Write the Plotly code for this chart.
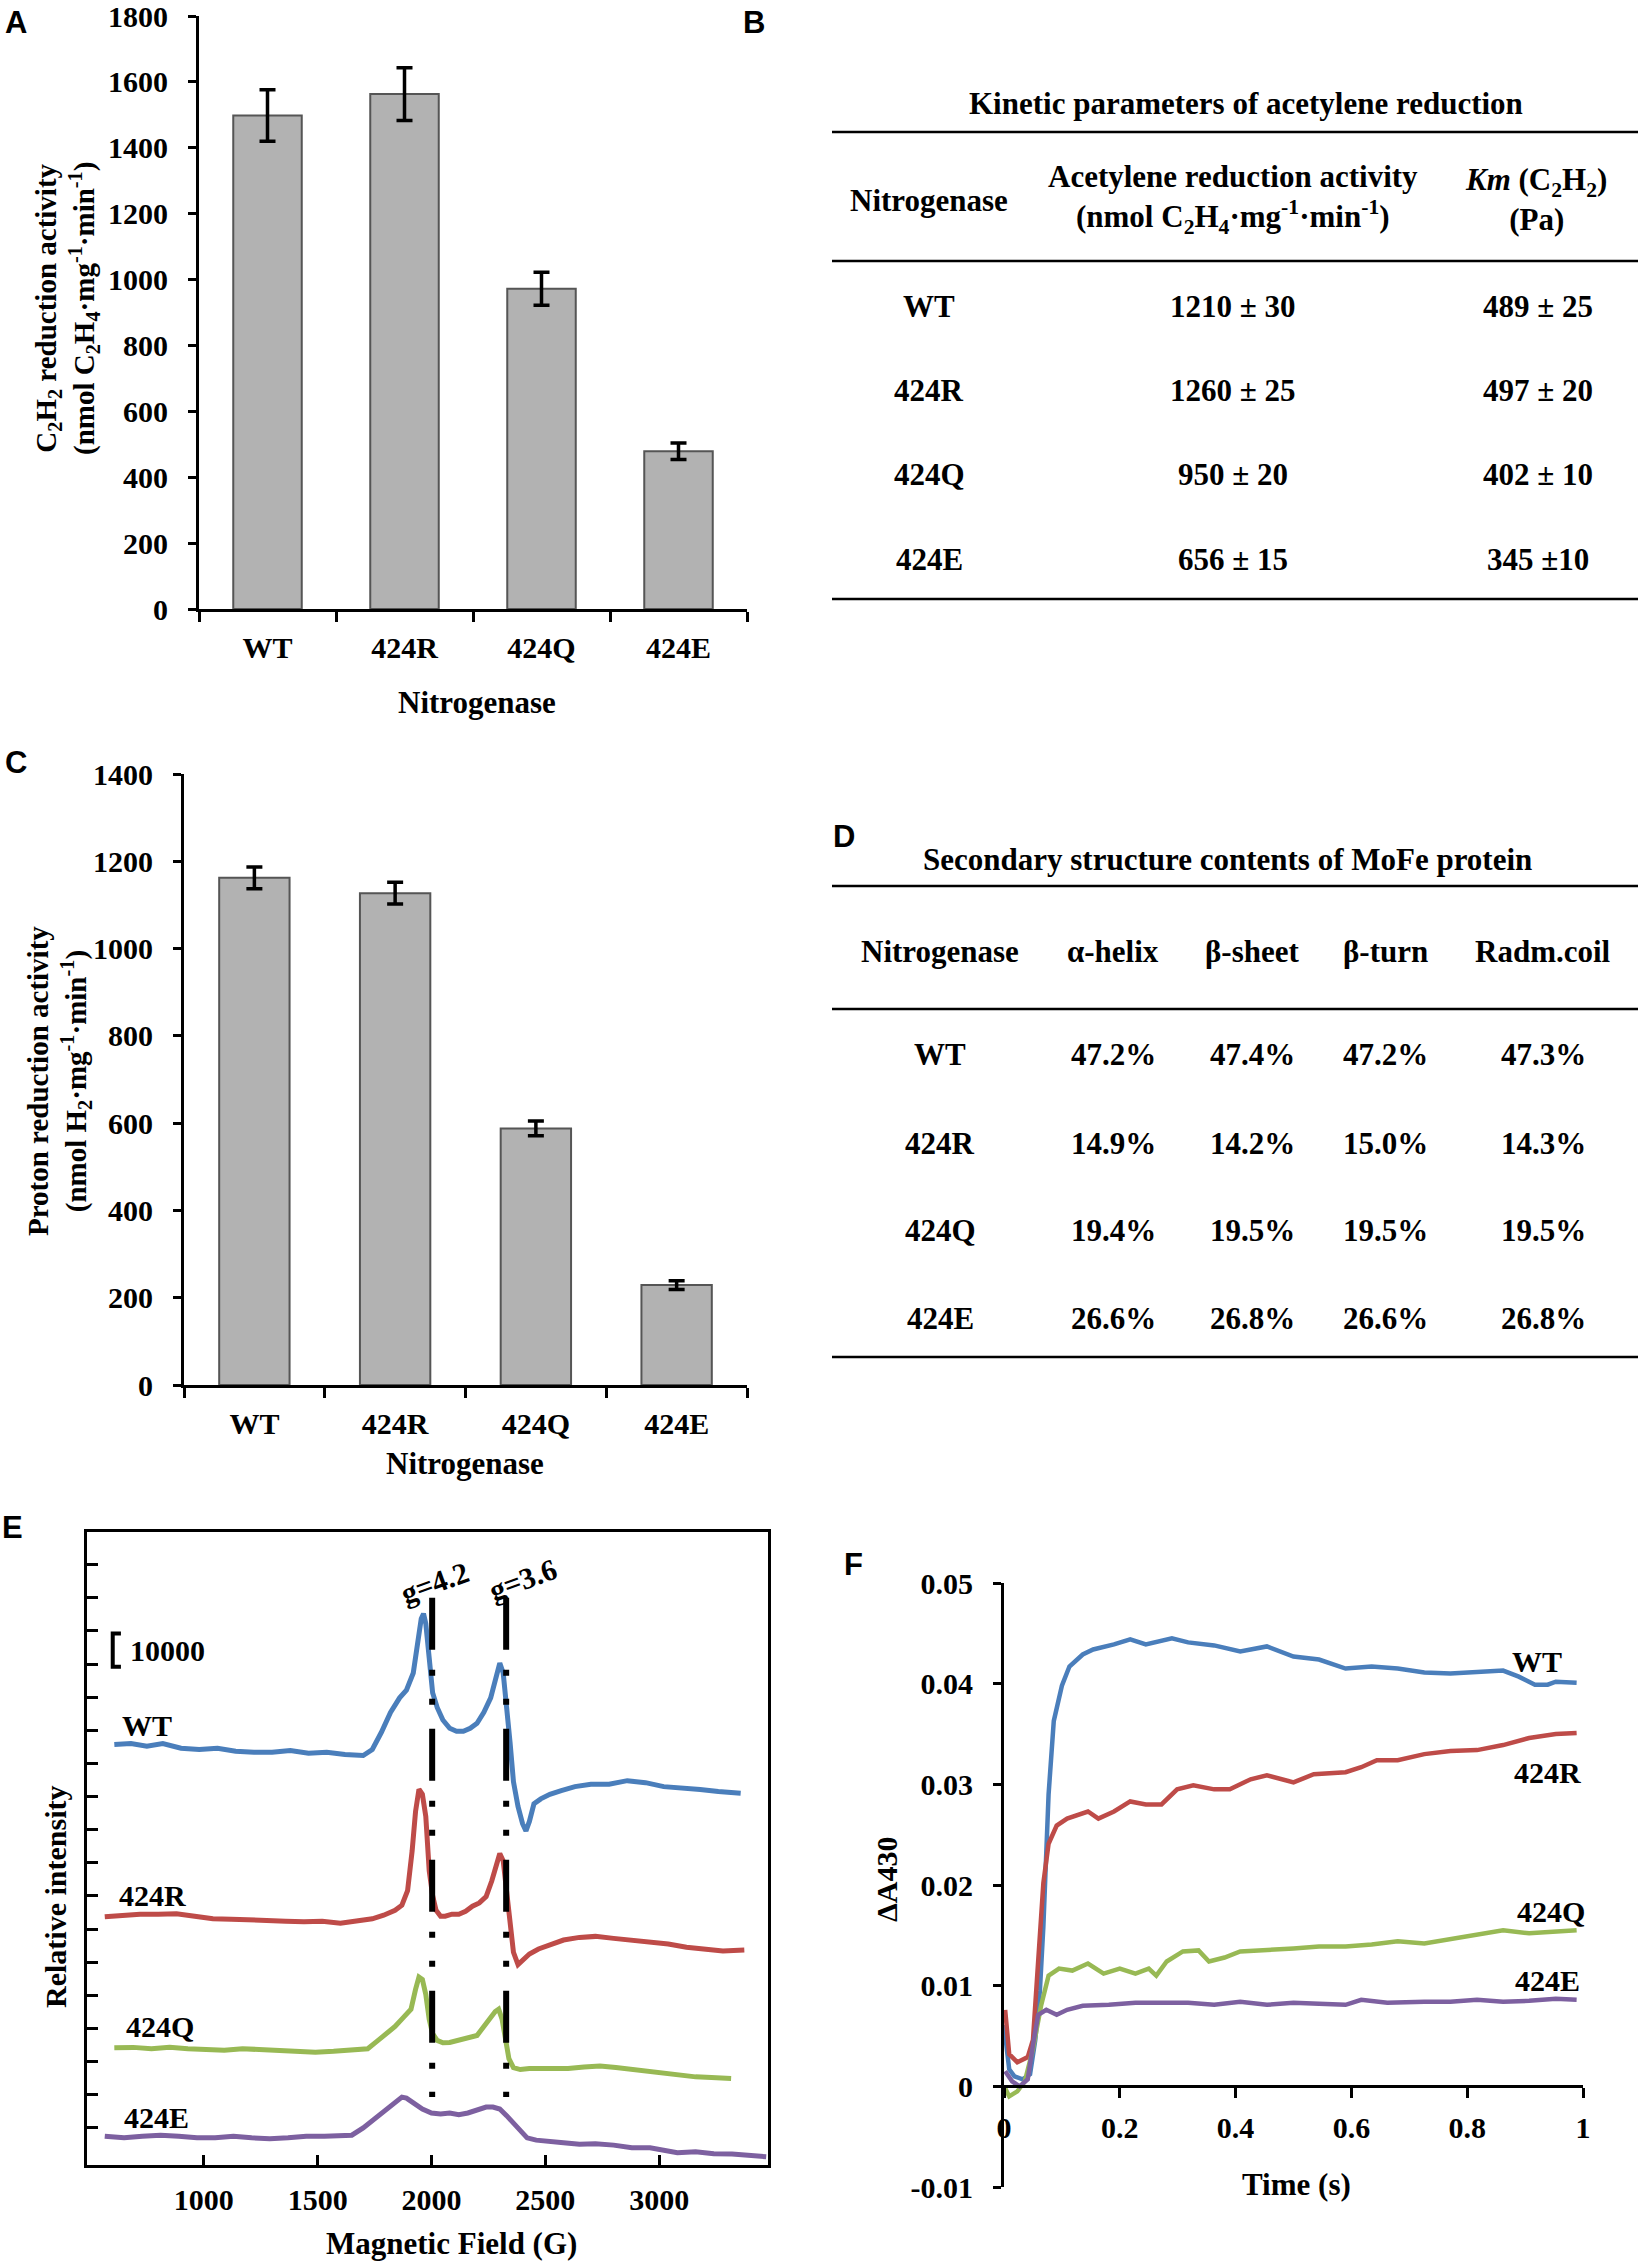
import plotly.graph_objects as go

W, H = 1639, 2265
SERIF = "Liberation Serif"
SANS = "Liberation Sans"


def PX(x):
    return x / W


def PY(y):
    return 1 - y / H


# ---------------- data ----------------
strains = ["WT", "424R", "424Q", "424E"]

# Panel A: C2H2 reduction activity
c2h2_activity = [1498, 1563, 972, 479]
c2h2_err = [78, 80, 50, 25]

# Panel C: proton reduction activity
h2_activity = [1162, 1127, 588, 229]
h2_err = [25, 25, 17, 10]

# Panel B table
kin_activity = ["1210 ± 30", "1260 ± 25", "950 ± 20", "656 ± 15"]
kin_km = ["489 ± 25", "497 ± 20", "402 ± 10", "345 ±10"]

# Panel D table
ss_columns = ["Nitrogenase", "α-helix", "β-sheet", "β-turn", "Radm.coil"]
ss_helix = ["47.2%", "14.9%", "19.4%", "26.6%"]
ss_sheet = ["47.4%", "14.2%", "19.5%", "26.8%"]
ss_turn = ["47.2%", "15.0%", "19.5%", "26.6%"]
ss_coil = ["47.3%", "14.3%", "19.5%", "26.8%"]

# Panel E: EPR spectra (field in G, offset intensity)
epr_wt_field = [607, 680, 750, 820, 900, 980, 1060, 1140, 1220, 1300, 1380, 1460, 1540, 1620, 1700,
                1740, 1780, 1820, 1860, 1890, 1920, 1940, 1955, 1965, 1975, 1990, 2005, 2025, 2050,
                2080, 2110, 2140, 2170, 2200, 2230, 2260, 2285, 2300, 2315, 2330, 2345, 2360, 2380,
                2400, 2415, 2430, 2450, 2480, 2520, 2570, 2630, 2700, 2780, 2860, 2940, 3020, 3100,
                3180, 3260, 3358]
epr_wt_int = [115700, 116000, 115200, 116000, 114600, 114200, 114600, 113700, 113400, 113400,
              113900, 113100, 113400, 112700, 112400, 114200, 119400, 125400, 129800, 132100,
              137300, 146300, 153700, 155200, 152200, 141800, 131300, 126900, 123100, 120600,
              119700, 119700, 120600, 122100, 125400, 129800, 137300, 140300, 137300, 128400,
              116400, 104500, 97000, 91800, 89600, 92500, 97800, 99300, 100700, 101800,
              103000, 103700, 103700, 104800, 104200, 103000, 102700, 102100, 101500, 101000]

epr_r_field = [565, 640, 720, 800, 880, 960, 1040, 1120, 1200, 1280, 1360, 1440, 1520, 1600, 1680,
               1740, 1790, 1840, 1870, 1895, 1915, 1930, 1945, 1960, 1975, 1990, 2005, 2020, 2040,
               2060, 2090, 2120, 2150, 2180, 2210, 2240, 2265, 2285, 2300, 2315, 2330, 2345, 2360,
               2380, 2400, 2430, 2470, 2520, 2580, 2650, 2720, 2800, 2880, 2960, 3040, 3120, 3200,
               3280, 3374]
epr_r_int = [63700, 64200, 64500, 64500, 64600, 63900, 63100, 63000, 62700, 62700,
             62400, 62200, 62400, 61800, 62700, 63100, 64200, 65700, 67200, 71600,
             83600, 95500, 102200, 100700, 94000, 77600, 70100, 65700, 63900, 63900,
             64500, 64500, 65400, 66900, 67900, 69800, 74600, 79800, 82800, 80600,
             71600, 59700, 53000, 49300, 50700, 52500, 54000, 55200, 56700, 57500,
             57800, 57200, 56700, 56300, 55500, 54500, 54000, 53400, 53700]

epr_q_field = [607, 690, 770, 850, 930, 1010, 1090, 1170, 1250, 1330, 1410, 1490, 1570, 1650, 1720,
               1760, 1800, 1840, 1880, 1910, 1930, 1945, 1960, 1975, 1990, 2005, 2025, 2050, 2080,
               2110, 2140, 2170, 2200, 2230, 2255, 2280, 2295, 2310, 2325, 2340, 2360, 2390, 2430,
               2480, 2540, 2600, 2670, 2740, 2810, 2880, 2950, 3020, 3090, 3160, 3230, 3316]
epr_q_int = [24200, 24300, 23900, 24300, 23900, 23600, 23400, 23900, 23600, 23100,
             23100, 22800, 23100, 23600, 23900, 26100, 28400, 30600, 33600, 35800,
             41800, 45500, 44800, 40300, 32800, 28400, 26400, 25700, 25800, 26400,
             26900, 27300, 27900, 30600, 32800, 35100, 35800, 32800, 26900, 20900,
             18200, 17600, 17900, 17900, 18200, 17900, 18400, 18700, 18200, 17600,
             17200, 16400, 15700, 15400, 15200, 14900]

epr_e_field = [565, 650, 730, 810, 890, 970, 1050, 1130, 1210, 1290, 1370, 1450, 1530, 1600, 1650,
               1700, 1750, 1800, 1840, 1870, 1890, 1920, 1960, 2000, 2040, 2080, 2120, 2160, 2200,
               2240, 2270, 2300, 2330, 2360, 2390, 2420, 2460, 2520, 2580, 2650, 2720, 2800, 2880,
               2960, 3020, 3080, 3160, 3240, 3320, 3400, 3470]
epr_e_int = [-2500, -3000, -2500, -2200, -2500, -3000, -3000, -2500, -3000, -3300,
             -3000, -2500, -2500, -2200, -2200, 0, 2700, 5700, 7800, 9300,
             9000, 7500, 5700, 4500, 4200, 4500, 4000, 4500, 5500, 6300,
             6300, 5700, 3700, 1500, -1200, -3000, -3700, -4200, -4500, -4900,
             -4800, -5200, -6000, -6000, -6700, -7500, -7200, -7800, -7900, -8200, -8700]

epr_label_field = [750, 774, 808, 792]
epr_label_int = [121600, 70100, 30600, 3000]

g_values = ["g=4.2", "g=3.6"]
g_field = [2003, 2328]
g_label_field = [2015, 2400]
g_label_int = [164500, 165500]
g_line_int = [160000, 9300]
scale_bar_value = 10000
scale_bar_base = 139200
scale_bar_field = 600
epr_ticks_field = [1000, 1500, 2000, 2500, 3000]
epr_ticks_int = list(range(0, 180000, 10000))

# Panel F: stopped-flow ΔA430
sf_wt_t = [0.0, 0.009, 0.018, 0.032, 0.045, 0.054, 0.062, 0.068, 0.077, 0.086, 0.1, 0.113, 0.136,
           0.154, 0.19, 0.218, 0.245, 0.29, 0.318, 0.363, 0.408, 0.454, 0.5, 0.544, 0.59, 0.635,
           0.68, 0.726, 0.771, 0.817, 0.862, 0.889, 0.917, 0.939, 0.953, 0.989]
sf_wt_v = [0.0061, 0.0017, 0.001, 0.0007, 0.0012, 0.0046, 0.0095, 0.0159, 0.029, 0.0363, 0.0398,
           0.0417, 0.0429, 0.0434, 0.0439, 0.0444, 0.0439, 0.0445, 0.0441, 0.0438, 0.0432, 0.0437,
           0.0427, 0.0424, 0.0415, 0.0417, 0.0415, 0.0411, 0.041, 0.0411, 0.0413, 0.0407, 0.0399,
           0.0399, 0.0402, 0.0401]
sf_r_t = [0.002, 0.009, 0.023, 0.041, 0.05, 0.059, 0.068, 0.077, 0.091, 0.109, 0.145, 0.163, 0.19,
          0.218, 0.245, 0.272, 0.299, 0.327, 0.363, 0.39, 0.426, 0.454, 0.481, 0.5, 0.535, 0.59,
          0.617, 0.644, 0.68, 0.726, 0.771, 0.817, 0.862, 0.907, 0.953, 0.989]
sf_r_v = [0.0076, 0.0032, 0.0024, 0.0029, 0.0046, 0.012, 0.0202, 0.0241, 0.0259, 0.0266, 0.0273,
          0.0266, 0.0273, 0.0283, 0.028, 0.028, 0.0295, 0.0299, 0.0295, 0.0295, 0.0305, 0.0309,
          0.0305, 0.0302, 0.031, 0.0312, 0.0317, 0.0324, 0.0324, 0.033, 0.0333, 0.0334, 0.0339,
          0.0346, 0.035, 0.0351]
sf_q_t = [0.002, 0.009, 0.023, 0.036, 0.05, 0.064, 0.077, 0.095, 0.118, 0.145, 0.172, 0.2, 0.227,
          0.25, 0.263, 0.281, 0.309, 0.336, 0.354, 0.381, 0.408, 0.454, 0.5, 0.544, 0.59, 0.635,
          0.68, 0.726, 0.771, 0.817, 0.862, 0.907, 0.953, 0.989]
sf_q_v = [-0.0002, -0.001, -0.0005, 0.0005, 0.0037, 0.008, 0.011, 0.0117, 0.0115, 0.0122, 0.0112,
          0.0117, 0.0112, 0.0117, 0.011, 0.0124, 0.0134, 0.0135, 0.0124, 0.0128, 0.0134, 0.0135,
          0.0137, 0.0139, 0.0139, 0.0141, 0.0144, 0.0142, 0.0146, 0.015, 0.0155, 0.0152, 0.0154,
          0.0155]
sf_e_t = [0.002, 0.014, 0.027, 0.041, 0.05, 0.059, 0.073, 0.091, 0.109, 0.136, 0.181, 0.227, 0.272,
          0.318, 0.363, 0.408, 0.454, 0.5, 0.544, 0.59, 0.617, 0.662, 0.726, 0.771, 0.817, 0.862,
          0.907, 0.953, 0.989]
sf_e_v = [0.0015, 0.0005, 0.0, 0.0007, 0.0041, 0.0071, 0.0076, 0.0071, 0.0076, 0.008, 0.0081,
          0.0083, 0.0083, 0.0083, 0.0081, 0.0084, 0.0081, 0.0083, 0.0082, 0.0081, 0.0086, 0.0083,
          0.0084, 0.0084, 0.0086, 0.0084, 0.0085, 0.0087, 0.0086]
sf_label_t = [0.921, 0.939, 0.944, 0.939]
sf_label_v = [0.0422, 0.0312, 0.0174, 0.0105]
sf_ticks_t = [0, 0.2, 0.4, 0.6, 0.8, 1]
sf_ticks_v = [0.05, 0.04, 0.03, 0.02, 0.01, 0, -0.01]

colors = ["#4A7EBB", "#BE4B48", "#98B954", "#7D60A0"]

# ---------------- figure ----------------
fig = go.Figure()

bar_style = dict(marker=dict(color="#b2b2b2", line=dict(color="#555555", width=2)), width=0.5,
                 showlegend=False)
fig.add_trace(go.Bar(x=strains, y=c2h2_activity,
                     error_y=dict(type="data", array=c2h2_err, color="black", thickness=3.5, width=8),
                     xaxis="x", yaxis="y", **bar_style))
fig.add_trace(go.Bar(x=strains, y=h2_activity,
                     error_y=dict(type="data", array=h2_err, color="black", thickness=3.5, width=8),
                     xaxis="x2", yaxis="y2", **bar_style))

epr = [(epr_wt_field, epr_wt_int), (epr_r_field, epr_r_int),
       (epr_q_field, epr_q_int), (epr_e_field, epr_e_int)]
for (xs, ys), c in zip(epr, colors):
    fig.add_trace(go.Scatter(x=xs, y=ys, mode="lines", line=dict(color=c, width=5),
                             xaxis="x3", yaxis="y3", showlegend=False))

sf = [(sf_wt_t, sf_wt_v), (sf_r_t, sf_r_v), (sf_q_t, sf_q_v), (sf_e_t, sf_e_v)]
for (xs, ys), c in zip(sf, colors):
    fig.add_trace(go.Scatter(x=xs, y=ys, mode="lines", line=dict(color=c, width=4.5),
                             xaxis="x4", yaxis="y4", showlegend=False))

tickfont = dict(family=SERIF, size=30, color="black", weight="bold")
axis_common = dict(showline=True, linecolor="black", linewidth=3, showgrid=False, zeroline=False,
                   tickcolor="black", tickwidth=3, tickfont=tickfont, ticklabeloverflow="allow")

fig.update_layout(
    width=W, height=H, margin=dict(l=0, r=0, t=0, b=0, autoexpand=False),
    paper_bgcolor="white", plot_bgcolor="white",
    font=dict(family=SERIF, size=30, color="black", weight="bold"),
    bargap=0.5,
    xaxis=dict(domain=[PX(199), PX(747)], anchor="y", type="category", ticks="outside",
               ticklen=10, tickson="boundaries", ticklabelstandoff=10, **axis_common),
    yaxis=dict(domain=[PY(609), PY(16)], anchor="x", range=[0, 1800], dtick=200,
               ticks="outside", ticklen=8, ticklabelstandoff=14, **axis_common),
    xaxis2=dict(domain=[PX(184), PX(747)], anchor="y2", type="category", ticks="outside",
                ticklen=10, tickson="boundaries", ticklabelstandoff=10, **axis_common),
    yaxis2=dict(domain=[PY(1385), PY(774)], anchor="x2", range=[0, 1400], dtick=200,
                ticks="outside", ticklen=8, ticklabelstandoff=14, **axis_common),
    xaxis3=dict(domain=[PX(87), PX(768)], anchor="y3", range=[487, 3478], mirror=True,
                ticks="inside", ticklen=10, tickvals=epr_ticks_field,
                ticktext=[str(v) for v in epr_ticks_field], ticklabelstandoff=6, **axis_common),
    yaxis3=dict(domain=[PY(2165), PY(1532)], anchor="x3", range=[-11200, 179850], mirror=True,
                ticks="inside", ticklen=11, tickvals=epr_ticks_int, showticklabels=False,
                **axis_common),
    xaxis4=dict(domain=[PX(1004), PX(1583)], anchor="free", position=PY(2086), range=[0, 1.0],
                ticks="outside", ticklen=10, tickvals=sf_ticks_t,
                ticktext=[f"{v:g}" for v in sf_ticks_t], ticklabelstandoff=4, **axis_common),
    yaxis4=dict(domain=[PY(2187), PY(1583)], anchor="x4", range=[-0.01, 0.05],
                ticks="outside", ticklen=8, tickvals=sf_ticks_v,
                ticktext=[f"{v:g}" for v in sf_ticks_v], ticklabelstandoff=14, **axis_common),
)

ann = []


def text(x, y, s, size=30, family=SERIF, angle=0, xanchor="center", xref="paper", yref="paper",
         weight="bold"):
    ann.append(dict(x=x, y=y, xref=xref, yref=yref, text=s, showarrow=False, textangle=angle,
                    xanchor=xanchor, yanchor="middle",
                    font=dict(family=family, size=size, color="black", weight=weight)))


# panel letters
for letter, (lx, ly) in zip("ABCDEF", [(16, 22), (754, 22), (16, 762), (844, 836), (12, 1527),
                                       (854, 1564)]):
    text(PX(lx), PY(ly), letter, size=31, family=SANS)

# axis titles
text(PX(67), PY(309),
     "C<sub>2</sub>H<sub>2</sub> reduction activity<br>(nmol C<sub>2</sub>H<sub>4</sub>·mg<sup>-1</sup>·min<sup>-1</sup>)",
     size=29, angle=-90)
text(PX(477), PY(702), "Nitrogenase", size=31)
text(PX(59), PY(1081),
     "Proton reduction activity<br>(nmol H<sub>2</sub>·mg<sup>-1</sup>·min<sup>-1</sup>)",
     size=29, angle=-90)
text(PX(465), PY(1463), "Nitrogenase", size=31)
text(PX(452), PY(2243), "Magnetic Field (G)", size=31)
text(PX(55), PY(1897), "Relative intensity", angle=-90)
text(PX(1296), PY(2184), "Time (s)", size=31)
text(PX(886), PY(1880), "ΔA430", angle=-90)

# table B
text(PX(1246), PY(103), "Kinetic parameters of acetylene reduction", size=31)
text(PX(929), PY(200), "Nitrogenase", size=31)
text(PX(1233), PY(199),
     "Acetylene reduction activity<br>(nmol C<sub>2</sub>H<sub>4</sub>·mg<sup>-1</sup>·min<sup>-1</sup>)",
     size=31)
text(PX(1536), PY(199), "<i>Km</i> (C<sub>2</sub>H<sub>2</sub>)<br>(Pa)", size=31)
rows_b = [306, 391, 475, 559]
for i, yy in enumerate(rows_b):
    text(PX(929), PY(yy), strains[i], size=31)
    text(PX(1233), PY(yy), kin_activity[i], size=31)
    text(PX(1538), PY(yy), kin_km[i], size=31)

# table D
text(PX(1227), PY(859), "Secondary structure contents of MoFe protein", size=31)
cols_d = [940, 1113, 1252, 1385, 1543]
for cx, head in zip(cols_d, ss_columns):
    text(PX(cx), PY(951), head, size=31)
rows_d = [1055, 1143, 1230, 1318]
for i, yy in enumerate(rows_d):
    vals = [strains[i], ss_helix[i], ss_sheet[i], ss_turn[i], ss_coil[i]]
    for cx, v in zip(cols_d, vals):
        text(PX(cx), PY(yy), v, size=31)

# EPR labels
for i, s in enumerate(strains):
    text(epr_label_field[i], epr_label_int[i], s, xref="x3", yref="y3")
for gv, gx, gy in zip(g_values, g_label_field, g_label_int):
    text(gx, gy, gv, angle=-20, xref="x3", yref="y3")
text(scale_bar_field + 68, scale_bar_base + scale_bar_value / 2, str(scale_bar_value),
     xref="x3", yref="y3", xanchor="left")

# stopped-flow labels
for i, s in enumerate(strains):
    text(sf_label_t[i], sf_label_v[i], s, xref="x4", yref="y4")

shapes = []
for yy in [132, 261, 599]:
    shapes.append(dict(type="line", xref="paper", yref="paper", x0=PX(832), x1=PX(1638),
                       y0=PY(yy), y1=PY(yy), line=dict(color="black", width=2.5)))
for yy in [886, 1009, 1357]:
    shapes.append(dict(type="line", xref="paper", yref="paper", x0=PX(832), x1=PX(1638),
                       y0=PY(yy), y1=PY(yy), line=dict(color="black", width=2.5)))
for gx in g_field:
    shapes.append(dict(type="line", xref="x3", yref="y3", x0=gx, x1=gx,
                       y0=g_line_int[0], y1=g_line_int[1],
                       line=dict(color="black", width=6, dash="52px,20px,6px,23px,6px,24px")))
# scale bar bracket
shapes.append(dict(type="path", xref="x3", yref="y3",
                   path=(f"M {scale_bar_field + 36},{scale_bar_base + scale_bar_value} "
                         f"L {scale_bar_field},{scale_bar_base + scale_bar_value} "
                         f"L {scale_bar_field},{scale_bar_base} "
                         f"L {scale_bar_field + 36},{scale_bar_base}"),
                   line=dict(color="black", width=4)))

fig.update_layout(annotations=ann, shapes=shapes)
fig.write_html("out.html", config={"displayModeBar": False},
               post_script="document.body.style.margin='0';document.body.style.overflow='hidden';")
